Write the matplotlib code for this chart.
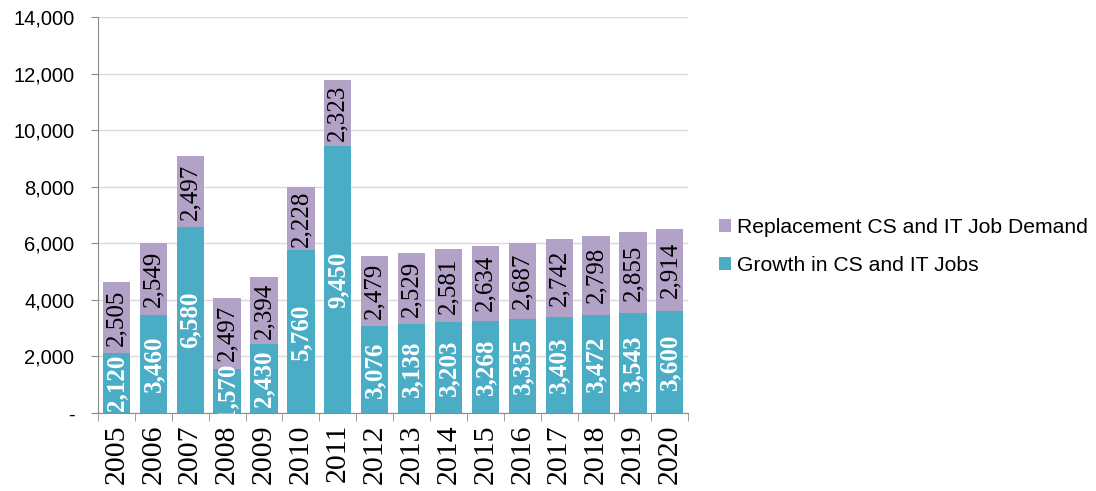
import numpy as np
import matplotlib
matplotlib.use("Agg")
import matplotlib.pyplot as plt
from matplotlib.ticker import FuncFormatter, FixedLocator

years = ["2005", "2006", "2007", "2008", "2009", "2010", "2011", "2012",
         "2013", "2014", "2015", "2016", "2017", "2018", "2019", "2020"]
growth = [2120, 3460, 6580, 1570, 2430, 5760, 9450, 3076,
          3138, 3203, 3268, 3335, 3403, 3472, 3543, 3600]
replacement = [2505, 2549, 2497, 2497, 2394, 2228, 2323, 2479,
               2529, 2581, 2634, 2687, 2742, 2798, 2855, 2914]

teal = "#4BACC6"
purple = "#B3A2C7"

fig = plt.figure(figsize=(10.96, 4.91), dpi=100)
ax = fig.add_axes([0.0894, 0.1589, 0.5386, 0.8065])

x = np.arange(len(years))
w = 0.74
b1 = ax.bar(x, growth, w, color=teal, label="Growth in CS and IT Jobs", zorder=2)
b2 = ax.bar(x, replacement, w, bottom=growth, color=purple,
            label="Replacement CS and IT Job Demand", zorder=2)

# value labels inside the segments, rotated
for xi, g, r in zip(x, growth, replacement):
    ax.text(xi, g / 2, f"{g:,}", rotation=90, ha="center", va="center",
            color="white", fontweight="bold", fontsize=18,
            family="Liberation Serif", zorder=3)
    ax.text(xi, g + r / 2, f"{r:,}", rotation=90, ha="center", va="center",
            color="black", fontsize=18, family="Liberation Serif", zorder=3)

ax.set_xlim(-0.5, len(years) - 0.5)
ax.set_ylim(0, 14000)
ax.set_yticks(np.arange(0, 14001, 2000))
ax.yaxis.set_major_formatter(FuncFormatter(lambda v, p: "-" if v == 0 else f"{int(v):,}"))
ax.grid(axis="y", color="#D9D9D9", linewidth=1, zorder=0)

ax.set_xticks(x)
ax.set_xticklabels(years, rotation=90, family="Liberation Serif", fontsize=21.5)
ax.tick_params(axis="x", length=0, pad=8)
ax.xaxis.set_minor_locator(FixedLocator(np.arange(-0.5, len(years), 1)))
ax.tick_params(axis="x", which="minor", length=6, color="#8C8C8C", direction="out")
ax.tick_params(axis="y", length=5, color="#8C8C8C", labelsize=14.5, pad=12)
for lab in ax.get_yticklabels():
    lab.set_family("Liberation Sans")

for s in ["top", "right"]:
    ax.spines[s].set_visible(False)
for s in ["left", "bottom"]:
    ax.spines[s].set_color("#8C8C8C")

leg = fig.legend(handles=[b2, b1], loc="upper left", bbox_to_anchor=(0.639, 0.595),
                 frameon=False, prop={"family": "Liberation Sans", "size": 15.2},
                 handlelength=0.55, handleheight=0.55, handletextpad=0.3,
                 labelspacing=0.9)

fig.savefig("out.png", dpi=100)
